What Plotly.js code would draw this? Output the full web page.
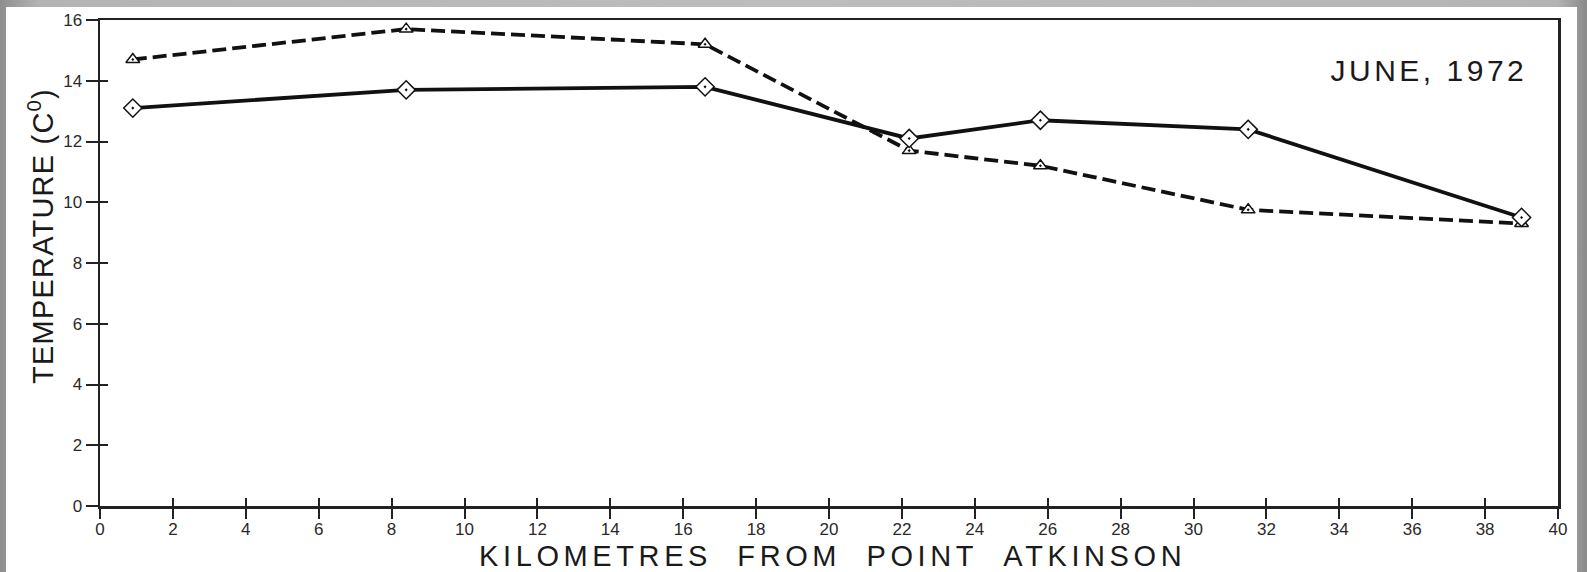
<!DOCTYPE html>
<html>
<head>
<meta charset="utf-8">
<script src="https://cdn.plot.ly/plotly-3.0.1.min.js"></script>
<style>
  html, body { margin: 0; padding: 0; width: 1587px; height: 572px; overflow: hidden;
    background: linear-gradient(90deg, #8e8e8e 0px, #b4b4b4 40px, #bdbdbd 50%, #b4b4b4 calc(100% - 30px), #8a8a8a 100%); }
  #plot { position: absolute; left: 6px; top: 7px; width: 1571px; height: 565px; background: #fff; }
  .annotation[data-index="0"] .annotation-text { letter-spacing: 3.5px; }
  .annotation[data-index="1"] .annotation-text { letter-spacing: 4.6px; }
  .annotation[data-index="2"] .annotation-text { letter-spacing: 1.2px; }
</style>
</head>
<body>
<div id="plot"></div>
<script>
// Distance from Point Atkinson (km)
const distanceKm = [0.9, 8.4, 16.6, 22.2, 25.8, 31.5, 39.0];
// Temperature series (deg C)
const solidSeries = [13.1, 13.7, 13.8, 12.1, 12.7, 12.4, 9.5];   // diamonds, solid line
const dashedSeries = [14.7, 15.7, 15.2, 11.7, 11.2, 9.75, 9.3];  // triangles, dashed line

const xTickVals = [0, 2, 4, 6, 8, 10, 12, 14, 16, 18, 20, 22, 24, 26, 28, 30, 32, 34, 36, 38, 40];
const yTickVals = [0, 2, 4, 6, 8, 10, 12, 14, 16];

const xTitle = 'KILOMETRES\u00a0\u00a0FROM\u00a0\u00a0POINT\u00a0\u00a0ATKINSON';
const yTitle = 'TEMPERATURE (C<sup>0</sup>)';
const noteText = 'JUNE, 1972';

const tickFont = { family: 'Liberation Sans, Arial, sans-serif', size: 17, color: '#2a2a2a' };

const traces = [
  {
    x: distanceKm, y: dashedSeries, mode: 'lines+markers', showlegend: false,
    line: { color: '#111', width: 3.8, dash: '14px,6px' },
    marker: { symbol: 'triangle-up-dot', size: 12, color: '#fff', line: { color: '#111', width: 1.5 } },
    cliponaxis: false
  },
  {
    x: distanceKm, y: solidSeries, mode: 'lines+markers', showlegend: false,
    line: { color: '#111', width: 3.8 },
    marker: { symbol: 'diamond-dot', size: 14, color: '#fff', line: { color: '#111', width: 1.5 } },
    cliponaxis: false
  },
  { x: [], y: [], xaxis: 'x2', yaxis: 'y2', showlegend: false, hoverinfo: 'skip' },
  { x: [], y: [], xaxis: 'x3', yaxis: 'y2', showlegend: false, hoverinfo: 'skip' }
];

const layout = {
  width: 1571, height: 565,
  margin: { l: 94, r: 19, t: 13, b: 66 },
  paper_bgcolor: '#fff', plot_bgcolor: '#fff',
  showlegend: false,
  xaxis: {
    range: [0, 40], tickvals: xTickVals, ticktext: xTickVals.map(String),
    ticks: 'outside', ticklen: 6, tickwidth: 2, tickcolor: '#222',
    showline: true, linewidth: 2.5, linecolor: '#222', mirror: true,
    showgrid: false, zeroline: false, tickfont: tickFont, fixedrange: true
  },
  yaxis: {
    range: [0, 16], tickvals: yTickVals, ticktext: yTickVals.map(String),
    ticks: 'outside', ticklen: 12, tickwidth: 2, tickcolor: '#222',
    showline: true, linewidth: 2.5, linecolor: '#222', mirror: true,
    showgrid: false, zeroline: false, tickfont: tickFont, fixedrange: true
  },
  xaxis2: {
    overlaying: 'x', anchor: 'y2', side: 'bottom', range: [0, 40], tickvals: xTickVals,
    ticks: 'inside', ticklen: 8, tickwidth: 2, tickcolor: '#222',
    showticklabels: false, showline: false, showgrid: false, zeroline: false
  },
  xaxis3: {
    overlaying: 'x', anchor: 'y2', side: 'bottom', range: [0, 40], tickvals: xTickVals,
    ticks: 'outside', ticklen: 12, tickwidth: 2, tickcolor: '#222',
    showticklabels: false, showline: false, showgrid: false, zeroline: false
  },
  yaxis2: {
    overlaying: 'y', anchor: 'x2', side: 'left', range: [0, 16], tickvals: yTickVals,
    ticks: 'inside', ticklen: 8, tickwidth: 2, tickcolor: '#222',
    showticklabels: false, showline: false, showgrid: false, zeroline: false
  },
  annotations: [
    { text: noteText, xref: 'x', yref: 'y', x: 38.75, y: 14.35, xanchor: 'right', yanchor: 'middle',
      showarrow: false, font: { family: 'Liberation Sans, Arial, sans-serif', size: 30, color: '#1a1a1a' } },
    { text: xTitle, xref: 'x', yref: 'paper', x: 20.1, y: -0.103, xanchor: 'center', yanchor: 'middle',
      borderpad: 0, showarrow: false, font: { family: 'Liberation Sans, Arial, sans-serif', size: 29, color: '#1a1a1a' } },
    { text: yTitle, xref: 'paper', yref: 'paper', x: -0.0408, y: 0.556, xanchor: 'center', yanchor: 'middle',
      textangle: -90, showarrow: false, font: { family: 'Liberation Sans, Arial, sans-serif', size: 29, color: '#1a1a1a' } }
  ]
};

Plotly.newPlot('plot', traces, layout, { staticPlot: true, displayModeBar: false });
</script>
</body>
</html>
